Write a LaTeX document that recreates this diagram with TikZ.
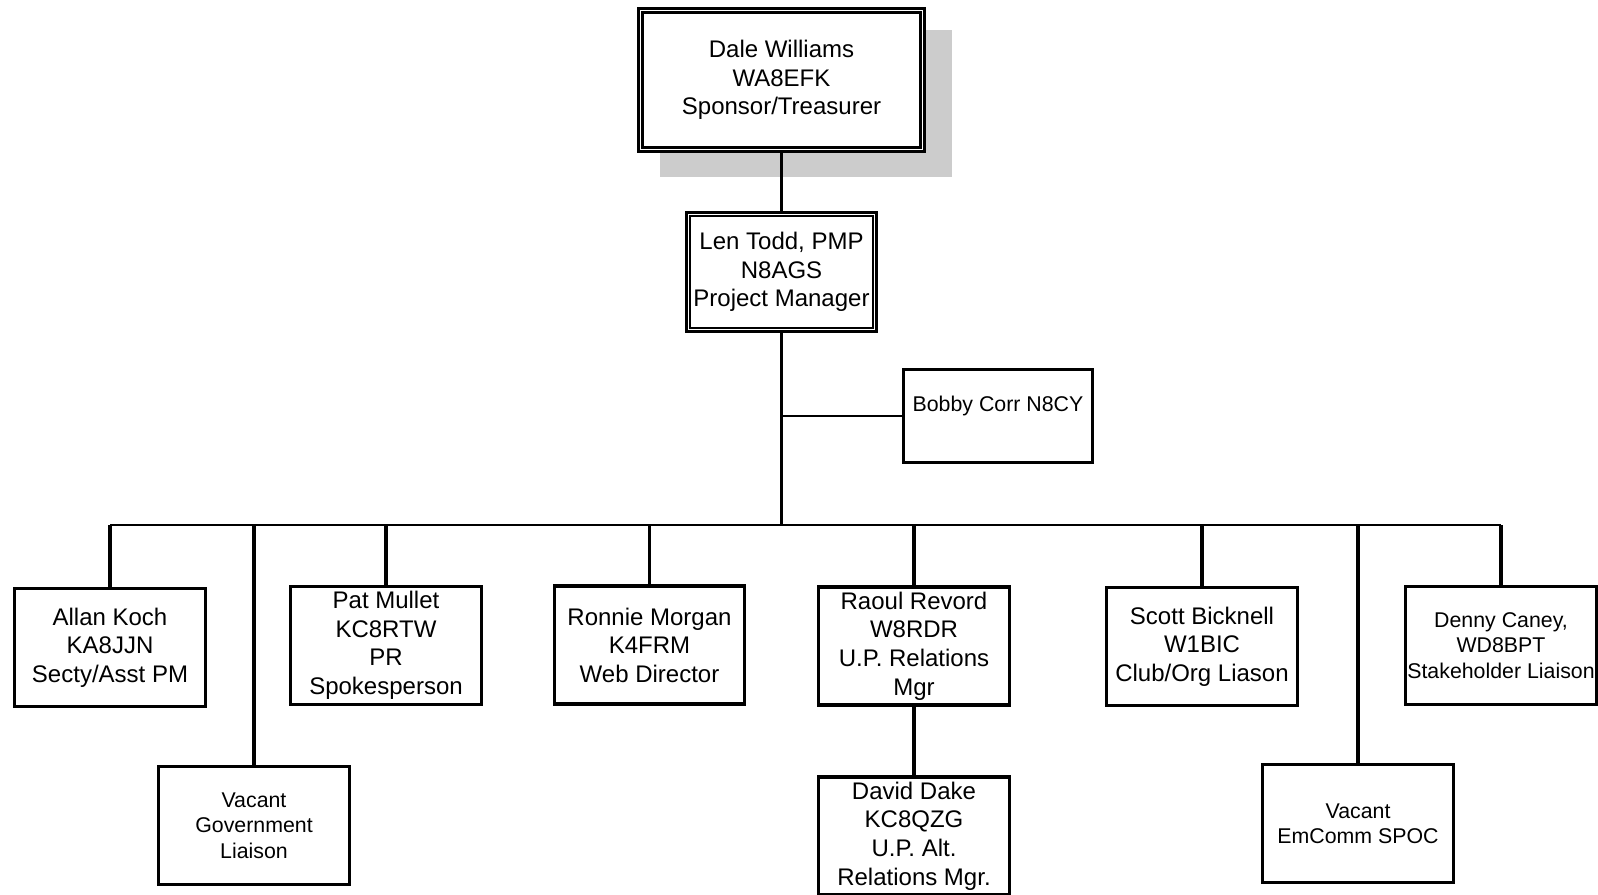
\documentclass[tikz,border=0pt]{standalone}
\usepackage{fontspec}
\setmainfont{Liberation Sans}
\definecolor{shadowgray}{RGB}{204,204,204}
\tikzset{
  x=0.75pt, y=-0.75pt,
  box/.style={draw, line width=2.3pt, fill=white, inner sep=0pt, align=center,
    font=\fontsize{18}{21.4}\selectfont,
    minimum width=143pt, minimum height=88.5pt},
  smallbox/.style={box, font=\fontsize{16}{19}\selectfont},
  innerline/.style={draw, line width=1.7pt},
  link/.style={draw, line width=2.4pt},
  buslink/.style={draw, line width=2.2pt},
  thinlink/.style={draw, line width=1.8pt},
}
\begin{document}
\begin{tikzpicture}
\useasboundingbox (0,0) rectangle (1598,894);
% shadow of top box
\fill[shadowgray] (660,30) rectangle (952,177);
% top
\node[box, minimum width=214.5pt, minimum height=107.25pt] (dale) at (781.5,80)
  {Dale Williams\\WA8EFK\\Sponsor/Treasurer};
\draw[innerline] ([shift={(5.5,5.5)}]dale.north west) rectangle ([shift={(-5.5,-5.5)}]dale.south east);
\node[box, minimum width=142.5pt, minimum height=89.25pt] (len) at (781.5,272)
  {Len Todd, PMP\\N8AGS\\Project Manager};
\draw[innerline] ([shift={(5.3,5.3)}]len.north west) rectangle ([shift={(-5.3,-5.3)}]len.south east);
\node[smallbox, minimum width=141.75pt, minimum height=69.75pt] (bobby) at (998,416)
  {Bobby Corr N8CY\\~};
% bottom row
\node[box] (allan) at (110,647.5) {Allan Koch\\KA8JJN\\Secty/Asst PM};
\node[smallbox] (vgov) at (254,825.5) {Vacant\\Government\\Liaison};
\node[box] (pat) at (386,645.5) {Pat Mullet\\KC8RTW\\PR\\Spokesperson};
\node[box] (ronnie) at (649.5,645) {Ronnie Morgan\\K4FRM\\Web Director};
\node[box] (raoul) at (914,646) {Raoul Revord\\W8RDR\\U.P. Relations\\Mgr};
\node[box] (david) at (914,836) {David Dake\\KC8QZG\\U.P. Alt.\\Relations Mgr.};
\node[box] (scott) at (1202,646.5) {Scott Bicknell\\W1BIC\\Club/Org Liason};
\node[smallbox] (emcomm) at (1358,823.5) {Vacant\\EmComm SPOC};
\node[smallbox] (denny) at (1501,645.5) {Denny Caney,\\WD8BPT\\Stakeholder Liaison};
% connectors
\coordinate (bus) at (781.5,525);
\coordinate (bj) at (781.5,416);
\draw[link] (dale.south) -- (len.north);
\draw[link] (len.south) -- (bus);
\draw[thinlink] (bobby.west) -- (bj);
\draw[buslink] (allan.north |- bus) -- (denny.north |- bus);
\foreach \n in {allan,vgov,pat,ronnie,raoul,scott,emcomm,denny}
  \draw[link] (\n.north |- bus) -- (\n.north);
\draw[link] (raoul.south) -- (david.north);
\end{tikzpicture}
\end{document}
